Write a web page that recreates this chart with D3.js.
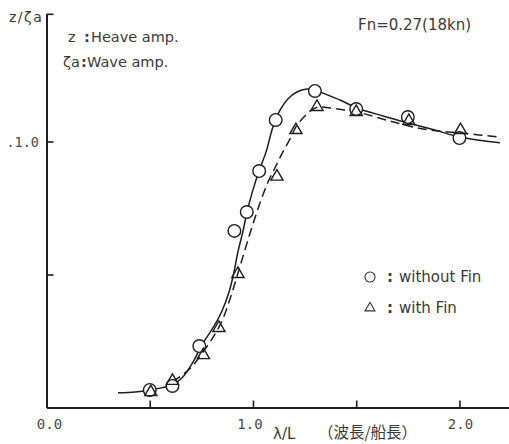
<!DOCTYPE html>
<html>
<head>
<meta charset="utf-8">
<script src="https://cdn.jsdelivr.net/npm/d3@7"></script>
<style>
  html, body { margin: 0; padding: 0; background: #fff; }
  svg { display: block; }
  .lbl { font-family: "DejaVu Sans", sans-serif; fill: #3a3a3a; }
  .num { font-family: "DejaVu Sans Mono", monospace; fill: #4a4a4a; }
  .cjk { font-family: "Noto Sans CJK JP", sans-serif; fill: #3a3a3a; }
</style>
</head>
<body>
<svg id="chart" width="509" height="444"></svg>
<script>
// Measured heave response z/ζa against wave length ratio λ/L, Fn = 0.27 (18 kn)
const lambdaWithoutFin = [0.50, 0.61, 0.74, 0.91, 0.97, 1.03, 1.11, 1.30, 1.50, 1.75, 2.00];
const heaveWithoutFin  = [0.066, 0.081, 0.231, 0.664, 0.735, 0.889, 1.081, 1.190, 1.122, 1.092, 1.013];

const lambdaWithFin = [0.505, 0.61, 0.76, 0.835, 0.927, 1.116, 1.208, 1.31, 1.50, 1.755, 2.005];
const heaveWithFin  = [0.058, 0.100, 0.197, 0.299, 0.502, 0.868, 1.043, 1.130, 1.111, 1.077, 1.043];

// Faired curves drawn through the measurements
const fairLambdaWithoutFin = [0.346, 0.429, 0.501, 0.608, 0.656, 0.705, 0.758, 0.806, 0.850, 0.884, 0.908, 0.927, 0.952, 0.971, 1.000, 1.029, 1.063, 1.097, 1.131, 1.169, 1.213, 1.262, 1.300, 1.339, 1.421, 1.504, 1.630, 1.755, 1.881, 2.002, 2.196];
const fairHeaveWithoutFin  = [0.055, 0.058, 0.066, 0.085, 0.111, 0.165, 0.242, 0.299, 0.363, 0.434, 0.509, 0.585, 0.664, 0.735, 0.818, 0.889, 0.960, 1.055, 1.118, 1.160, 1.186, 1.197, 1.196, 1.182, 1.156, 1.126, 1.096, 1.069, 1.043, 1.017, 0.995];

const fairLambdaWithFin = [0.610, 0.650, 0.700, 0.772, 0.811, 0.850, 0.884, 0.913, 0.942, 0.971, 1.000, 1.034, 1.073, 1.111, 1.145, 1.179, 1.208, 1.242, 1.276, 1.315, 1.373, 1.445, 1.504, 1.663, 1.823, 2.002, 2.196];
const fairHeaveWithFin  = [0.098, 0.118, 0.150, 0.224, 0.269, 0.325, 0.397, 0.468, 0.543, 0.618, 0.690, 0.769, 0.848, 0.908, 0.961, 1.009, 1.055, 1.088, 1.114, 1.129, 1.126, 1.118, 1.111, 1.077, 1.047, 1.032, 1.017];

// Axis ticks and labels
const xTickValues = [0.5, 1.0, 1.5, 2.0];
const xLabelValues = [0.0, 1.0, 2.0];
const xLabelTexts = ["0.0", "1.0", "2.0"];
const yTickValues = [0.5, 1.0];
const yLabelValues = [1.0];
const yLabelTexts = [".1.0"];
const yAxisTop = 1.48;
const xAxisEnd = 2.24;

const svg = d3.select("#chart");
svg.append("rect").attr("width", 509).attr("height", 444).attr("fill", "#fff");

const x = d3.scaleLinear().domain([0, xAxisEnd]).range([46.5, 509]);
const y = d3.scaleLinear().domain([0, 1]).range([407.5, 141.5]);
const yAxisScale = d3.scaleLinear().domain([0, yAxisTop]).range([y(0), y(yAxisTop)]);

const ink = "#1e1e1e";

// x axis with inward ticks
const gx = svg.append("g").attr("transform", `translate(0,${y(0)})`)
  .call(d3.axisBottom(x).tickValues(xTickValues).tickSizeInner(-7).tickSizeOuter(0).tickFormat(""));
gx.select(".domain").attr("stroke", ink).attr("stroke-width", 2);
gx.selectAll(".tick line").attr("stroke", ink).attr("stroke-width", 1.6);

// y axis with inward ticks, closed by a tick at its top end
const gy = svg.append("g").attr("transform", `translate(${x(0)},0)`)
  .call(d3.axisLeft(yAxisScale).tickValues(yTickValues.concat([yAxisTop])).tickSizeInner(-7).tickSizeOuter(0).tickFormat(""));
gy.select(".domain").attr("stroke", ink).attr("stroke-width", 2);
gy.selectAll(".tick line").attr("stroke", ink).attr("stroke-width", 1.6);

// tick labels
svg.selectAll("text.xl").data(xLabelValues).join("text")
  .attr("class", "num xl")
  .attr("x", (d, i) => x(d) + [3, -3, 1][i])
  .attr("y", 429)
  .attr("text-anchor", "middle")
  .attr("font-size", 14)
  .text((d, i) => xLabelTexts[i]);

svg.selectAll("text.yl").data(yLabelValues).join("text")
  .attr("class", "num yl")
  .attr("x", 39)
  .attr("y", d => y(d) + 5)
  .attr("text-anchor", "end")
  .attr("font-size", 13.5)
  .text((d, i) => yLabelTexts[i]);

// axis titles
svg.append("text").attr("class", "lbl").attr("x", 9).attr("y", 22)
  .attr("font-size", 14).attr("letter-spacing", 1.5).text("z/ζa");
svg.append("text").attr("class", "lbl").attr("x", 273).attr("y", 439)
  .attr("font-size", 15).text("λ/L");
svg.append("text").attr("class", "cjk").attr("x", 417).attr("y", 438)
  .attr("text-anchor", "end").attr("font-size", 15.5).text("（波長/船長）");

// notes
svg.append("text").attr("class", "lbl").attr("x", 68).attr("y", 42).attr("font-size", 14.5).text("z");
svg.append("text").attr("class", "lbl").attr("x", 87).attr("y", 42).attr("font-size", 14.5)
  .attr("font-weight", "bold").attr("text-anchor", "middle").text(":");
svg.append("text").attr("class", "lbl").attr("x", 91).attr("y", 42).attr("font-size", 14.5).text("Heave amp.");
svg.append("text").attr("class", "lbl").attr("x", 63).attr("y", 67).attr("font-size", 14.5).text("ζa");
svg.append("text").attr("class", "lbl").attr("x", 84).attr("y", 67).attr("font-size", 14.5)
  .attr("font-weight", "bold").attr("text-anchor", "middle").text(":");
svg.append("text").attr("class", "lbl").attr("x", 87).attr("y", 67).attr("font-size", 14.5).text("Wave amp.");
svg.append("text").attr("class", "lbl").attr("x", 358).attr("y", 30).attr("font-size", 15).text("Fn=0.27(18kn)");

// faired curves
const line = d3.line().x(d => x(d[0])).y(d => y(d[1])).curve(d3.curveCatmullRom.alpha(0.5));
svg.append("path")
  .datum(d3.zip(fairLambdaWithoutFin, fairHeaveWithoutFin))
  .attr("d", line).attr("fill", "none").attr("stroke", ink).attr("stroke-width", 1.5);
svg.append("path")
  .datum(d3.zip(fairLambdaWithFin, fairHeaveWithFin))
  .attr("d", line).attr("fill", "none").attr("stroke", ink).attr("stroke-width", 1.5)
  .attr("stroke-dasharray", "9,5");

// measured points
const circleSym = d3.symbol(d3.symbolCircle, Math.PI * 6.3 * 6.3);
const triSym = d3.symbol(d3.symbolTriangle, 64);
svg.selectAll("path.pc").data(d3.zip(lambdaWithoutFin, heaveWithoutFin)).join("path")
  .attr("class", "pc")
  .attr("transform", d => `translate(${x(d[0])},${y(d[1])})`)
  .attr("d", circleSym).attr("fill", "#fff").attr("stroke", ink).attr("stroke-width", 1.4);
svg.selectAll("path.pt").data(d3.zip(lambdaWithFin, heaveWithFin)).join("path")
  .attr("class", "pt")
  .attr("transform", d => `translate(${x(d[0])},${y(d[1])})`)
  .attr("d", triSym).attr("fill", "none").attr("stroke", ink).attr("stroke-width", 1.4);

// legend
const legendRows = [
  { sym: d3.symbol(d3.symbolCircle, Math.PI * 5 * 5), label: "without Fin", yy: 277 },
  { sym: d3.symbol(d3.symbolTriangle, 43), label: "with Fin", yy: 308 }
];
legendRows.forEach(r => {
  svg.append("path").attr("transform", `translate(370,${r.yy})`)
    .attr("d", r.sym).attr("fill", "none").attr("stroke", "#333").attr("stroke-width", 1.1);
  svg.append("text").attr("class", "lbl").attr("x", 390).attr("y", r.yy + 5)
    .attr("font-size", 15).attr("font-weight", "bold").attr("text-anchor", "middle").text(":");
  svg.append("text").attr("class", "lbl").attr("x", 399).attr("y", r.yy + 5)
    .attr("font-size", 15).text(r.label);
});
</script>
</body>
</html>
